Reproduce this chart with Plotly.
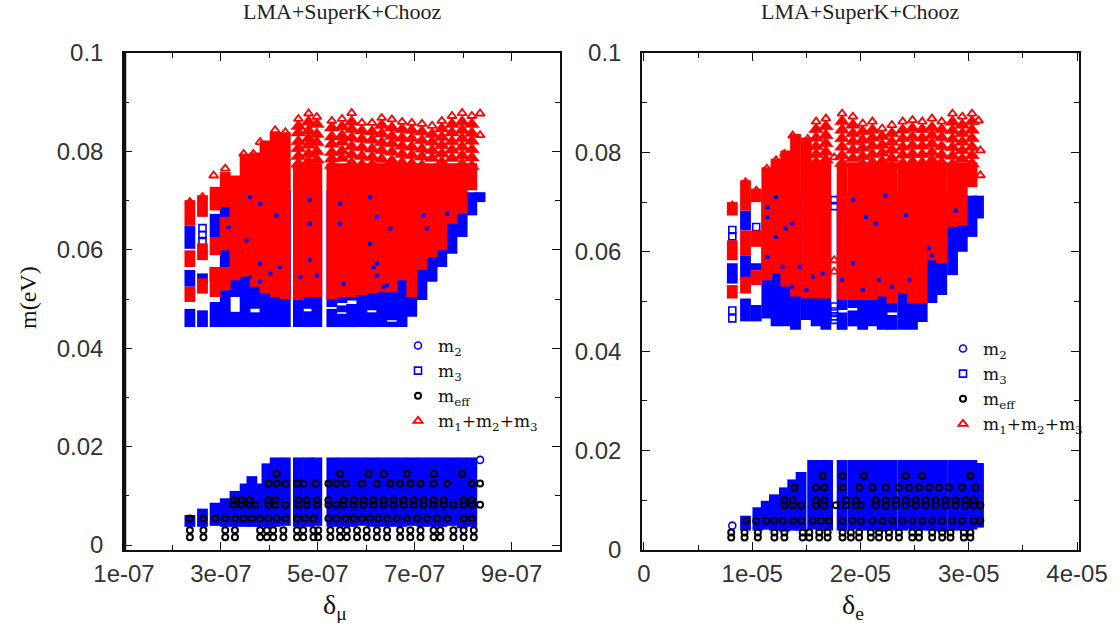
import plotly.graph_objects as go

# ---------- left panel (delta_mu, x in units of 1e-7) ----------
L_m3_col = [2.36,2.36,2.36,2.62,2.62,2.88,2.88,2.88,3.09,3.09,3.29,3.29,3.50,3.71,3.71,3.91,4.12,4.33,4.60,4.81,4.81,4.98,5.29,5.29,5.50,5.50,5.50,5.70,5.70,5.91,6.12,6.12,6.32,6.53,6.53,6.74,6.94,7.15,7.36,7.56,7.77,7.98,8.18,8.35]
L_m3_lo  = [.0602,.0525,.0443,.0531,.0443,.0626,.0535,.0443,.0565,.0443,.0443,.0504,.0443,.0443,.0480,.0443,.0443,.0443,.0443,.0443,.0480,.0443,.0443,.0484,.0443,.0473,.0492,.0443,.0497,.0443,.0443,.0477,.0443,.0443,.0457,.0443,.0464,.0498,.0535,.0565,.0592,.0626,.0670,.0697]
L_m3_hi  = [.0649,.0559,.0480,.0552,.0477,.0673,.0565,.0494,.0687,.0518,.0474,.0721,.0721,.0473,.0721,.0721,.0721,.0721,.0721,.0475,.0721,.0721,.0480,.0721,.0470,.0487,.0721,.0490,.0721,.0721,.0473,.0721,.0721,.0454,.0721,.0721,.0721,.0721,.0721,.0721,.0717,.0717,.0717,.0717]
L_m3_x = [2.62,2.62,2.62,8.35]
L_m3_y = [.0644,.0630,.0618,.0707]
L_speck_x = [3.60,3.81,3.16,3.53,3.81,4.15,4.22,4.84,4.84,5.46,5.46,6.08,6.22,6.50,7.18,7.25,6.15,6.22,6.36,6.08,4.84,4.02,3.60,3.81,4.64,4.98,5.53,6.22,6.43,7.67]
L_speck_y = [.0707,.0694,.0646,.0619,.0572,.0670,.0565,.0701,.0653,.0694,.0653,.0707,.0667,.0643,.0670,.0643,.0565,.0572,.0525,.0612,.0579,.0552,.0545,.0535,.0545,.0548,.0531,.0548,.0528,.0673]

L_sum_col = [2.36,2.36,2.36,2.62,2.62,2.62,2.88,2.88,2.88,3.09,3.09,3.09,3.29,3.50,3.71,3.91,4.12,4.33,4.60,4.81,4.98,5.29,5.50,5.70,5.91,6.12,6.32,6.53,6.74,6.94,7.15,7.36,7.56,7.77,7.98,8.18]
L_sum_lo  = [.0649,.0565,.0494,.0667,.0579,.0511,.0680,.0589,.0504,.0687,.0599,.0518,.0538,.0545,.0525,.0511,.0504,.0500,.0498,.0504,.0504,.0500,.0504,.0504,.0508,.0511,.0514,.0514,.0538,.0504,.0559,.0585,.0599,.0653,.0673,.0721]
L_sum_hi  = [.0701,.0599,.0525,.0711,.0613,.0542,.0728,.0626,.0565,.0758,.0667,.0565,.0751,.0795,.0798,.0822,.0839,.0839,.0776,.0776,.0776,.0776,.0776,.0776,.0776,.0776,.0776,.0776,.0776,.0776,.0776,.0776,.0776,.0776,.0776,.0776]
L_sum_x = [2.36,2.62,2.85,3.09,3.47,3.67,3.81,4.12,4.33,8.35,8.35]
L_sum_y = [.0697,.0707,.0751,.0765,.0795,.0795,.0819,.0843,.0839,.0877,.0833]
L_up_col = [4.60,4.81,4.98,5.29,5.50,5.70,5.91,6.12,6.32,6.53,6.74,6.94,7.15,7.36,7.56,7.77,7.98,8.18]
L_up_y = [[.0866,.0851,.0838,.0820,.0806,.0790,.0775],[.0877,.0860,.0842,.0826,.0813,.0795,.0780],[.0870,.0855,.0835,.0818,.0800,.0783],
          [.0862,.0848,.0830,.0815,.0798,.0785,.0772],[.0866,.0850,.0832,.0819,.0801,.0786],[.0878,.0860,.0845,.0828,.0810,.0793,.0776],
          [.0858,.0842,.0825,.0808,.0790,.0773],[.0858,.0840,.0823,.0805,.0788,.0772],[.0868,.0853,.0836,.0818,.0802,.0784],
          [.0865,.0848,.0831,.0816,.0799,.0781],[.0860,.0845,.0827,.0811,.0794,.0777],[.0858,.0843,.0826,.0809,.0792,.0775],
          [.0856,.0840,.0822,.0805,.0789,.0771],[.0852,.0835,.0819,.0802,.0786],[.0862,.0846,.0829,.0812,.0795,.0778],
          [.0872,.0855,.0838,.0820,.0803,.0786],[.0878,.0860,.0843,.0826,.0809,.0791,.0774],[.0872,.0855,.0837,.0821,.0804,.0787,.0770]]

L_m2_col = [2.36,2.62,2.88,3.09,3.29,3.50,3.64,3.81,3.95,4.12,4.33,4.60,4.81,4.98,5.29,5.50,5.70,5.91,6.12,6.32,6.53,6.74,6.94,7.15,7.36,7.56,7.77,7.98,8.18]
L_m2_lo  = [.0037,.0037,.0039,.0037,.0037,.0037,.0037,.0037,.0037,.0037,.0039,.0037,.0037,.0039,.0037,.0037,.0037,.0039,.0037,.0037,.0037,.0037,.0039,.0037,.0037,.0037,.0039,.0034,.0037]
L_m2_hi  = [.0061,.0074,.0086,.0095,.0110,.0125,.0140,.0125,.0166,.0178,.0178,.0178,.0178,.0178,.0178,.0178,.0178,.0178,.0178,.0178,.0178,.0178,.0178,.0178,.0178,.0178,.0178,.0178,.0178]
L_m2_x = [8.35]
L_m2_y = [.0173]

L_eff_rows = [.0030,.0016,.0054,.0091,.0082,.0125,.0145]
L_eff_row_x = [
    [2.36,2.64,3.09,3.29,3.81,3.95,4.08,4.29,4.57,4.70,4.91,5.01,5.26,5.46,5.60,5.81,6.01,6.22,6.43,6.70,6.91,7.12,7.39,7.53,7.80,8.01,8.22],
    [2.36,2.64,3.09,3.29,3.81,3.95,4.08,4.29,4.57,4.70,4.91,5.01,5.26,5.46,5.60,5.81,6.01,6.22,6.43,6.70,6.91,7.12,7.39,7.53,7.80,8.01,8.22],
    [2.36,2.64,2.88,3.09,3.29,3.47,3.64,3.81,3.98,4.15,4.33,4.57,4.74,4.91,5.22,5.39,5.57,5.74,5.91,6.08,6.25,6.43,6.63,6.84,7.05,7.25,7.46,7.67,8.01,8.18],
    [3.26,3.43,3.60,3.98,4.12,4.60,4.77,4.98,5.22,5.53,5.74,5.94,6.15,6.36,6.56,6.77,6.98,7.18,7.39,7.60,8.01,8.18],
    [3.26,3.43,3.60,3.71,3.98,4.12,4.33,4.60,4.77,4.98,5.22,5.39,5.53,5.74,5.94,6.15,6.36,6.56,6.77,6.98,7.18,7.39,7.60,7.80,8.01,8.18,8.35],
    [3.98,4.15,4.33,4.57,4.70,4.95,5.22,5.39,5.57,5.91,6.22,6.50,6.70,6.91,7.12,7.39,7.67,8.18,8.35],
    [4.15,5.46,6.05,6.36,6.84,7.39,7.98],
]

# ---------- right panel (delta_e, x in units of 1e-5) ----------
R_m3_col = [.816,.938,.938,.938,1.037,1.037,1.135,1.22,1.31,1.40,1.50,1.59,1.68,1.83,1.83,1.93,1.93,2.02,2.11,2.20,2.29,2.29,2.39,2.48,2.57,2.66,2.75,2.85,2.94,3.03,3.09]
R_m3_lo  = [.0536,.0643,.0546,.0460,.0563,.0460,.0466,.0450,.0450,.0443,.0463,.0450,.0443,.0443,.0483,.0450,.0487,.0443,.0450,.0443,.0443,.0478,.0443,.0443,.0459,.0497,.0513,.0553,.0600,.0630,.0667]
R_m3_hi  = [.0577,.0683,.0593,.0506,.0577,.0493,.0707,.0717,.0717,.0717,.0717,.0717,.0717,.0478,.0717,.0482,.0717,.0717,.0717,.0717,.0473,.0717,.0717,.0717,.0717,.0717,.0717,.0717,.0713,.0713,.0713]
R_m3_x = [.816,.816,.816,.816,1.037,1.757,1.757,1.757,1.757,1.757,1.757]
R_m3_y = [.0644,.0631,.0482,.0466,.0650,.0704,.0692,.0490,.0480,.0470,.0463]
R_speck_x = [1.22,1.14,1.14,1.31,1.37,1.22,1.14,1.28,1.44,1.56,1.65,1.83,1.93,1.93,2.05,2.14,2.23,2.42,2.63,2.66,2.88,2.17,2.29,2.45,1.37,1.50,2.02]
R_speck_y = [.0710,.0690,.0670,.0647,.0657,.0630,.0590,.0570,.0570,.0550,.0556,.0543,.0577,.0704,.0670,.0657,.0713,.0674,.0607,.0593,.0683,.0543,.0530,.0543,.0530,.0523,.0523]

R_sum_col = [.816,.816,.816,.938,.938,.938,1.037,1.037,1.037,1.135,1.22,1.31,1.40,1.50,1.59,1.68,1.83,1.93,2.02,2.11,2.20,2.29,2.39,2.48,2.57,2.66,2.75,2.85,2.94,3.03]
R_sum_lo  = [.0673,.0583,.0506,.0683,.0593,.0516,.0700,.0610,.0533,.0543,.0556,.0530,.0510,.0506,.0506,.0506,.0503,.0503,.0503,.0503,.0510,.0496,.0516,.0496,.0496,.0583,.0577,.0650,.0653,.0730]
R_sum_hi  = [.0700,.0623,.0533,.0744,.0643,.0550,.0727,.0643,.0563,.0770,.0787,.0804,.0837,.0830,.0780,.0780,.0780,.0780,.0780,.0780,.0780,.0780,.0780,.0780,.0780,.0780,.0780,.0780,.0780,.0780]
R_sum_x = [.816,.938,1.037,1.135,1.22,1.297,1.374,1.512,1.757,1.757,1.757,3.09,3.107,3.107]
R_sum_y = [.0693,.0740,.0723,.0767,.0784,.0797,.0834,.0827,.0790,.0583,.0560,.0864,.0804,.0754]
R_up_col = [1.59,1.68,1.83,1.93,2.02,2.11,2.20,2.29,2.39,2.48,2.57,2.66,2.75,2.85,2.94,3.03]
R_up_y = [[.0862,.0846,.0829,.0812,.0796,.0780],[.0868,.0852,.0834,.0818,.0801,.0785],[.0878,.0862,.0845,.0828,.0811,.0794,.0778],
          [.0872,.0855,.0838,.0822,.0805,.0788],[.0858,.0842,.0825,.0809,.0792,.0776],[.0862,.0845,.0829,.0813,.0796,.0780],
          [.0848,.0832,.0815,.0799,.0782],[.0855,.0838,.0821,.0805,.0788,.0772],[.0862,.0845,.0828,.0811,.0795,.0778],
          [.0865,.0848,.0831,.0814,.0797,.0781],[.0862,.0846,.0829,.0813,.0796,.0779],[.0868,.0850,.0834,.0817,.0800,.0784],
          [.0862,.0846,.0830,.0812,.0795,.0779],[.0878,.0861,.0844,.0827,.0810,.0793,.0776],[.0872,.0855,.0838,.0821,.0804,.0787],
          [.0878,.0862,.0845,.0828,.0811,.0794,.0777]]

R_m2_col = [.938,1.052,1.129,1.205,1.297,1.374,1.451,1.558,1.635,1.696,1.83,1.93,2.02,2.11,2.20,2.29,2.39,2.48,2.57,2.66,2.75,2.85,2.94,3.03,3.09]
R_m2_lo  = [.0039,.0039,.0041,.0039,.0037,.0039,.0039,.0041,.0039,.0039,.0039,.0041,.0039,.0039,.0037,.0039,.0039,.0041,.0039,.0039,.0037,.0039,.0039,.0041,.0045]
R_m2_hi  = [.0069,.0086,.0099,.0112,.0126,.0142,.0157,.0181,.0181,.0181,.0181,.0181,.0181,.0181,.0181,.0181,.0181,.0181,.0181,.0181,.0181,.0181,.0181,.0181,.0175]
R_m2_x = [.816]
R_m2_y = [.0049]

R_eff_rows = [.0025,.0035,.0059,.0100,.0090,.0126,.0149]
R_eff_row_x = [
    [.806,.929,1.052,1.205,1.297,1.466,1.527,1.619,1.696,1.834,1.911,1.987,2.095,2.171,2.263,2.355,2.478,2.54,2.662,2.754,2.831,2.954,3.015],
    [.806,.929,1.052,1.205,1.297,1.466,1.527,1.619,1.696,1.834,1.911,1.987,2.095,2.171,2.263,2.355,2.478,2.54,2.662,2.754,2.831,2.954,3.015],
    [.944,1.037,1.129,1.205,1.282,1.374,1.451,1.558,1.635,1.711,1.834,1.926,2.003,2.11,2.202,2.294,2.386,2.478,2.57,2.662,2.754,2.846,2.938,3.046,3.107],
    [1.297,1.374,1.589,1.665,1.865,1.957,2.141,2.233,2.325,2.417,2.509,2.601,2.693,2.785,2.877,2.969,3.046],
    [1.297,1.374,1.451,1.589,1.665,1.773,1.865,1.957,2.003,2.141,2.233,2.325,2.417,2.509,2.601,2.693,2.785,2.877,2.969,3.046,3.107],
    [1.389,1.589,1.665,1.834,1.987,2.11,2.233,2.355,2.448,2.54,2.632,2.724,2.816,2.938,3.061],
    [1.65,1.834,2.033,2.417,2.57,3.015],
]

# ---------- axes text ----------
title_text = "LMA+SuperK+Chooz"
y_tick_vals = [0, .02, .04, .06, .08, .1]
y_tick_text = ["0", "0.02", "0.04", "0.06", "0.08", "0.1"]
y_minor_vals = [.01, .03, .05, .07, .09]
L_tick_vals = [1e-7, 3e-7, 5e-7, 7e-7, 9e-7]
L_tick_text = ["1e-07", "3e-07", "5e-07", "7e-07", "9e-07"]
L_minor_vals = [2e-7, 4e-7, 6e-7, 8e-7]
R_tick_vals = [0, 1e-5, 2e-5, 3e-5, 4e-5]
R_tick_text = ["0", "1e-05", "2e-05", "3e-05", "4e-05"]
R_minor_vals = [.5e-5, 1.5e-5, 2.5e-5, 3.5e-5]

BLUE, RED, BLACK = "#0000ff", "#ff0000", "#000000"
W, H = 1120, 623
SANS, SERIF = "Liberation Sans", "Liberation Serif"


def band(col, lo, hi, unit, color, xa, ya, width=10.8):
    xs, ys = [], []
    for c, a, b in zip(col, lo, hi):
        xs += [c * unit, c * unit, None]
        ys += [a, b, None]
    return go.Scatter(x=xs, y=ys, mode="lines", xaxis=xa, yaxis=ya, showlegend=False,
                      hoverinfo="skip", line=dict(color=color, width=width))


def pts(x, y, unit, symbol, color, name, xa, ya, legend, size=7, lw=1.6, show=True):
    return go.Scatter(x=[v * unit for v in x], y=y, mode="markers", name=name, xaxis=xa, yaxis=ya,
                      legend=legend, showlegend=show,
                      marker=dict(symbol=symbol, size=size, color=color, line=dict(color=color, width=lw)))


fig = go.Figure()
for p, unit, xa, ya, leg in [("L", 1e-7, "x", "y", "legend"), ("R", 1e-5, "x2", "y2", "legend2")]:
    g = globals()
    eff_x = [v for row in g[p + "_eff_row_x"] for v in row]
    eff_y = [r for r, row in zip(g[p + "_eff_rows"], g[p + "_eff_row_x"]) for _ in row]
    # first value of each column is the open marker on the rim; the rest overlap into a nearly solid area
    rim_x = list(g[p + "_up_col"])
    rim_y = [ys[0] for ys in g[p + "_up_y"]]
    up_x = [c for c, ys in zip(g[p + "_up_col"], g[p + "_up_y"]) for _ in ys[1:]]
    up_y = [v for ys in g[p + "_up_y"] for v in ys[1:]]
    fig.add_trace(band(g[p + "_m2_col"], g[p + "_m2_lo"], g[p + "_m2_hi"], unit, BLUE, xa, ya))
    fig.add_trace(pts(g[p + "_m2_x"], g[p + "_m2_y"], unit, "circle-open", BLUE, "m<sub>2</sub>", xa, ya, leg))
    fig.add_trace(band(g[p + "_m3_col"], g[p + "_m3_lo"], g[p + "_m3_hi"], unit, BLUE, xa, ya))
    fig.add_trace(pts(g[p + "_m3_x"], g[p + "_m3_y"], unit, "square-open", BLUE, "m<sub>3</sub>", xa, ya, leg))
    fig.add_trace(pts(eff_x, eff_y, unit, "circle-open", BLACK, "m<sub>eff</sub>", xa, ya, leg, size=6, lw=2))
    fig.add_trace(band(g[p + "_sum_col"], g[p + "_sum_lo"], g[p + "_sum_hi"], unit, RED, xa, ya))
    fig.add_trace(pts(g[p + "_speck_x"], g[p + "_speck_y"], unit, "square", BLUE, "m3 seen through", xa, ya, leg,
                      size=4, lw=0, show=False))
    fig.add_trace(pts(up_x, up_y, unit, "triangle-up", RED, "m1+m2+m3 upper", xa, ya, leg, size=13, lw=0.5, show=False))
    fig.add_trace(pts(rim_x, rim_y, unit, "triangle-up-open", RED, "m1+m2+m3 rim", xa, ya, leg, size=8, lw=1.8, show=False))
    fig.add_trace(pts(g[p + "_sum_x"], g[p + "_sum_y"], unit, "triangle-up-open", RED,
                      "m<sub>1</sub>+m<sub>2</sub>+m<sub>3</sub>", xa, ya, leg, size=8, lw=1.8))

axis_style = dict(showgrid=False, zeroline=False, showline=True, linecolor="#111111", linewidth=1.5,
                  mirror="ticks", ticks="inside", ticklen=8, tickwidth=1.2, tickcolor="#111111", automargin=False,
                  tickfont=dict(family=SANS, size=24, color="#333333"))


def minor(vals):
    return dict(tickmode="array", tickvals=vals, ticks="inside", ticklen=5, tickwidth=1.2, tickcolor="#111111")


def note(text, x, y, size, angle=0, color="#222222"):
    return dict(text=text, x=x / W, y=1 - y / H, xref="paper", yref="paper", showarrow=False, textangle=angle,
                xanchor="center", yanchor="middle", font=dict(family=SERIF, size=size, color=color))


fig.update_layout(
    width=W, height=H, margin=dict(l=0, r=0, t=0, b=0), paper_bgcolor="white", plot_bgcolor="white",
    xaxis=dict(domain=[124 / W, 560 / W], range=[1e-7, 1e-6], tickmode="array", tickvals=L_tick_vals,
               ticktext=L_tick_text, ticklabelstandoff=1, minor=minor(L_minor_vals), anchor="y", **axis_style),
    yaxis=dict(domain=[1 - 550 / H, 1 - 53 / H], range=[-.00101, .1], tickmode="array", tickvals=y_tick_vals,
               ticktext=y_tick_text, ticklabelstandoff=14, minor=minor(y_minor_vals), anchor="x", **axis_style),
    xaxis2=dict(domain=[642 / W, 1079 / W], range=[-.018e-5, 4.018e-5], tickmode="array", tickvals=R_tick_vals,
                ticktext=R_tick_text, ticklabelstandoff=1, minor=minor(R_minor_vals), anchor="y2", **axis_style),
    yaxis2=dict(domain=[1 - 550 / H, 1 - 53 / H], range=[0, .1], tickmode="array", tickvals=y_tick_vals,
                ticktext=y_tick_text, ticklabelstandoff=14, minor=minor(y_minor_vals), anchor="x2", **axis_style),
    legend=dict(x=398 / W, y=1 - 328 / H, xanchor="left", yanchor="top", bgcolor="rgba(0,0,0,0)",
                font=dict(family="DejaVu Serif", size=17, color="#111111")),
    legend2=dict(x=943 / W, y=1 - 331 / H, xanchor="left", yanchor="top", bgcolor="rgba(0,0,0,0)",
                 font=dict(family="DejaVu Serif", size=17, color="#111111")),
    shapes=[dict(type="line", xref="paper", yref="paper", x0=124.5 / W, x1=124.5 / W, y0=1 - 550 / H, y1=1 - 53 / H,
                 line=dict(color="#111111", width=3.5))],
    annotations=[
        note(title_text, 342, 12, 22),
        note(title_text, 860, 12, 22),
        note("m(eV)", 28, 298, 24, angle=-90, color="#111111"),
        note("δ<sub>μ</sub>", 335, 606, 28, color="#111111"),
        note("δ<sub>e</sub>", 853, 606, 28, color="#111111"),
    ],
)
fig.write_html("out.html", post_script="document.body.style.margin='0';", config=dict(displayModeBar=False))
